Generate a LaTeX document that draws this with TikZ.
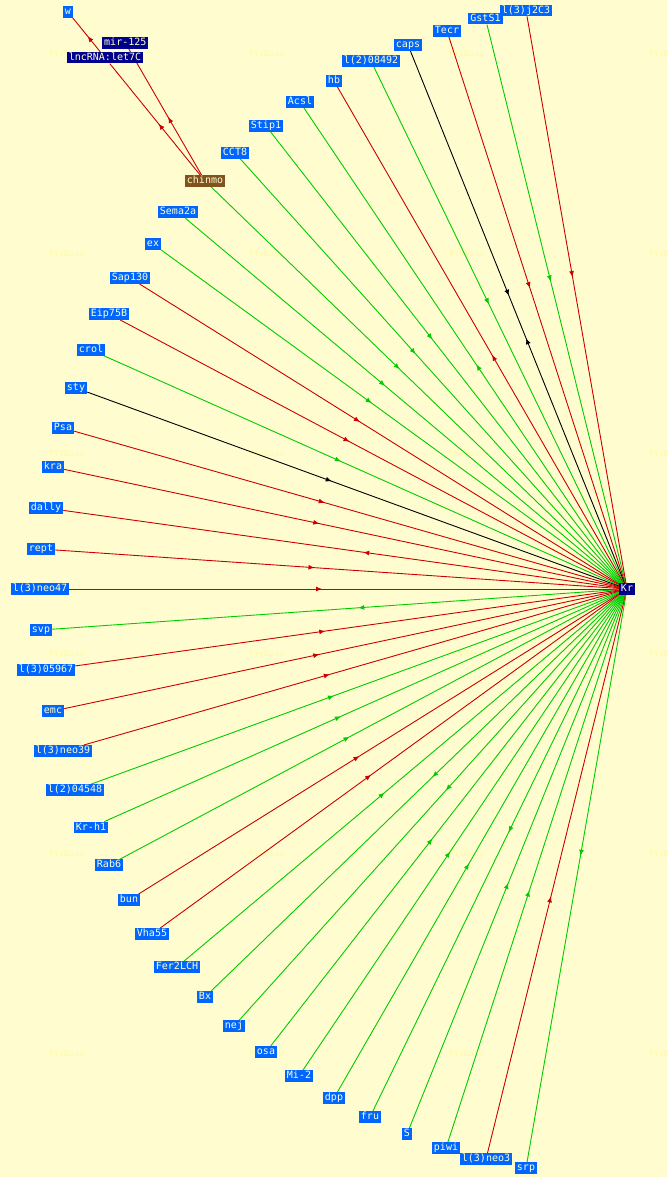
\documentclass[tikz,border=0pt]{standalone}
\usepackage{fontspec}
\newfontfamily\monof{DejaVu Sans Mono}
\usetikzlibrary{arrows.meta,decorations.markings}
\definecolor{bgc}{RGB}{255,253,208}
\definecolor{wmc}{RGB}{255,249,168}
\definecolor{lblue}{RGB}{0,102,255}
\definecolor{navyc}{RGB}{0,0,140}
\definecolor{brn}{RGB}{128,82,32}
\definecolor{ltxt}{RGB}{255,255,204}
\definecolor{rline}{RGB}{204,0,0}
\definecolor{gline}{RGB}{0,204,0}
\pgfdeclarelayer{bg}
\pgfsetlayers{bg,main}
\begin{document}
\begin{tikzpicture}[x=1pt,y=-1pt,
 gene/.style={fill=lblue,text=ltxt,font=\monof\fontsize{10}{10}\selectfont,inner xsep=2pt,inner ysep=1pt,text height=7.5pt,text depth=2pt},
 rna/.style={gene,fill=navyc},
 chin/.style={gene,fill=brn},
 wm/.style={text=wmc,font=\monof\fontsize{8.3}{8.3}\selectfont,anchor=west,inner sep=0pt},
 lnk/.style={line width=0.9pt,postaction={decorate},decoration={markings,mark=at position 0.46 with {\arrow{Latex[length=6pt,width=5pt]}}}},
 lnkboth/.style={line width=0.9pt,postaction={decorate},decoration={markings,mark=at position 0.46 with {\arrow{Latex[length=6pt,width=5pt]}},mark=at position 0.54 with {\arrowreversed{Latex[length=6pt,width=5pt]}}}},
 redE/.style={lnk,rline},
 greenE/.style={lnk,gline},
 blackE/.style={lnk,black},
]
\useasboundingbox (0,0) rectangle (667,1177);
% nodes
\node[gene] (w) at (68,12) {w};
\node[rna] (mir) at (125.3,43) {mir-125};
\node[rna] (lnc) at (105,57.7) {lncRNA:let7C};
\node[chin] (chinmo) at (205,181) {chinmo};
\node[gene] (CCT8) at (235,153) {CCT8};
\node[gene] (Stip1) at (266,126) {Stip1};
\node[gene] (Acsl) at (300,102) {Acsl};
\node[gene] (hb) at (334,81) {hb};
\node[gene] (l208492) at (371,61) {l(2)08492};
\node[gene] (caps) at (408,45) {caps};
\node[gene] (Tecr) at (447,31) {Tecr};
\node[gene] (GstS1) at (485.5,18.7) {GstS1};
\node[gene] (l3j2C3) at (526,10.5) {l(3)j2C3};
\node[gene] (Sema2a) at (178,212) {Sema2a};
\node[gene] (ex) at (153,244) {ex};
\node[gene] (Sap130) at (130,278) {Sap130};
\node[gene] (Eip75B) at (109,314) {Eip75B};
\node[gene] (crol) at (91,350) {crol};
\node[gene] (sty) at (76,388) {sty};
\node[gene] (Psa) at (63,428) {Psa};
\node[gene] (kra) at (53,467) {kra};
\node[gene] (dally) at (46,508) {dally};
\node[gene] (rept) at (41,549) {rept};
\node[gene] (l3neo47) at (40,589) {l(3)neo47};
\node[gene] (svp) at (41,630) {svp};
\node[gene] (l305967) at (46,670) {l(3)05967};
\node[gene] (emc) at (53,711) {emc};
\node[gene] (l3neo39) at (63,751) {l(3)neo39};
\node[gene] (l204548) at (75,790) {l(2)04548};
\node[gene] (Krh1) at (91,827.5) {Kr-h1};
\node[gene] (Rab6) at (109,865) {Rab6};
\node[gene] (bun) at (129,900) {bun};
\node[gene] (Vha55) at (152,934) {Vha55};
\node[gene] (Fer2LCH) at (177,967) {Fer2LCH};
\node[gene] (Bx) at (205,997) {Bx};
\node[gene] (nej) at (234,1026) {nej};
\node[gene] (osa) at (266,1052) {osa};
\node[gene] (Mi2) at (299,1076) {Mi-2};
\node[gene] (dpp) at (334,1098) {dpp};
\node[gene] (fru) at (370,1117) {fru};
\node[gene] (S) at (407,1134) {S};
\node[gene] (piwi) at (446,1148) {piwi};
\node[gene] (l3neo3) at (486,1159) {l(3)neo3};
\node[gene] (srp) at (526,1168) {srp};
\node[rna] (Kr) at (627,589) {Kr};
\begin{pgfonlayer}{bg}
\fill[bgc] (0,0) rectangle (667,1177);
\foreach \x in {49,249,449,649}
  \foreach \y in {54,254,454,654,854,1054}
    \node[wm] at (\x,\y) {FlyBase};
% chinmo cluster
\draw[redE] (lnc) -- (w);
\draw[redE] (chinmo) -- (lnc);
\draw[redE] (chinmo) -- (mir);
% edges with Kr
\draw[greenE] (chinmo) -- (Kr);
\draw[greenE] (CCT8) -- (Kr);
\draw[greenE] (Stip1) -- (Kr);
\draw[greenE] (Kr) -- (Acsl);
\draw[redE] (Kr) -- (hb);
\draw[greenE] (l208492) -- (Kr);
\draw[lnkboth,black] (caps) -- (Kr);
\draw[redE] (Tecr) -- (Kr);
\draw[greenE] (GstS1) -- (Kr);
\draw[redE] (l3j2C3) -- (Kr);
\draw[greenE] (Sema2a) -- (Kr);
\draw[greenE] (ex) -- (Kr);
\draw[redE] (Sap130) -- (Kr);
\draw[redE] (Eip75B) -- (Kr);
\draw[greenE] (crol) -- (Kr);
\draw[blackE] (sty) -- (Kr);
\draw[redE] (Psa) -- (Kr);
\draw[redE] (kra) -- (Kr);
\draw[redE] (Kr) -- (dally);
\draw[redE] (rept) -- (Kr);
\draw[redE] (l3neo47) -- (Kr);
\draw[greenE] (Kr) -- (svp);
\draw[redE] (l305967) -- (Kr);
\draw[redE] (emc) -- (Kr);
\draw[redE] (l3neo39) -- (Kr);
\draw[greenE] (l204548) -- (Kr);
\draw[greenE] (Krh1) -- (Kr);
\draw[greenE] (Rab6) -- (Kr);
\draw[redE] (bun) -- (Kr);
\draw[redE] (Vha55) -- (Kr);
\draw[greenE] (Fer2LCH) -- (Kr);
\draw[greenE] (Kr) -- (Bx);
\draw[greenE] (Kr) -- (nej);
\draw[greenE] (osa) -- (Kr);
\draw[greenE] (Mi2) -- (Kr);
\draw[greenE] (dpp) -- (Kr);
\draw[greenE] (Kr) -- (fru);
\draw[greenE] (S) -- (Kr);
\draw[greenE] (piwi) -- (Kr);
\draw[redE] (l3neo3) -- (Kr);
\draw[greenE] (Kr) -- (srp);
\end{pgfonlayer}
\end{tikzpicture}
\end{document}
